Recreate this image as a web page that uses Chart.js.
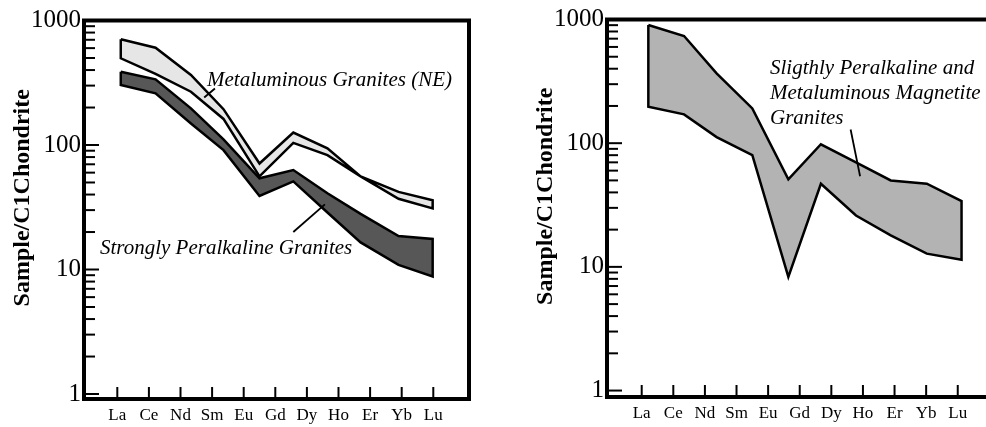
<!DOCTYPE html>
<html>
<head>
<meta charset="utf-8">
<script src="https://cdn.jsdelivr.net/npm/chart.js@4.4.0/dist/chart.umd.min.js"></script>
<style>
  html, body { margin: 0; padding: 0; background: #fff; overflow: hidden; width: 986px; height: 427px; }
  canvas { position: absolute; top: 0; }
  #leftChart { left: 0; }
  #rightChart { left: 523px; }
</style>
</head>
<body>
<canvas id="leftChart" width="490" height="427"></canvas>
<canvas id="rightChart" width="500" height="427"></canvas>
<script>
// REE labels on the x axis, one tick each
const ELEMENTS = ["La", "Ce", "Nd", "Sm", "Eu", "Gd", "Dy", "Ho", "Er", "Yb", "Lu"];
const Y_TICKS = [1, 2, 3, 4, 5, 6, 7, 8, 9, 10, 20, 30, 40, 50, 60, 70, 80, 90,
  100, 200, 300, 400, 500, 600, 700, 800, 900, 1000];
const Y_LABELS = [1, 10, 100, 1000];

// left diagram: two granite envelopes (x = position along the REE axis)
const leftPos = [0.11, 1.21, 2.33, 3.36, 4.5, 5.57, 6.65, 7.7, 8.9, 9.98];
const metaHigh = [706, 605, 365, 194, 71, 126, 94, 56, 42, 36];
const metaLow = [497, 372, 268, 162, 56, 104, 83, 56, 37, 31];
const strongHigh = [388, 337, 197, 111, 54, 63, 41, 28, 18.6, 17.6];
const strongLow = [303, 260, 149, 91, 39, 51, 28.7, 16.5, 10.9, 8.8];

// right diagram: magnetite granite envelope
const rightPos = [0.21, 1.34, 2.37, 3.5, 4.64, 5.67, 6.78, 7.88, 9.02, 10.12];
const magHigh = [903, 735, 367, 191, 51, 98, 70, 50, 47, 34];
const magLow = [197, 171, 112, 80, 8.3, 47, 26, 18, 12.8, 11.4];

const colors = {
  ink: "#000000",
  meta: "#e6e6e6",
  strong: "#575757",
  magnetite: "#b3b3b3",
};

// closed outline: along the upper edge, back along the lower edge
function bandPolygon(pos, high, low) {
  const top = pos.map((x, i) => ({ x, y: high[i] }));
  const bottom = pos.map((x, i) => ({ x, y: low[i] })).reverse();
  return [...top, ...bottom, top[0]];
}

function band(pos, high, low, fillColor) {
  return {
    data: bandPolygon(pos, high, low),
    showLine: true,
    fill: "shape",
    backgroundColor: fillColor,
    borderColor: colors.ink,
    borderWidth: 2.5,
    borderJoinStyle: "miter",
    pointRadius: 0,
    tension: 0,
  };
}

function isDecade(v) {
  return Y_LABELS.includes(v);
}

// frame, inward ticks, leader lines, captions and the rotated y title
const decorPlugin = {
  id: "decor",
  afterDraw(chart, args, opts) {
    const { ctx, chartArea: area, scales } = chart;
    const xs = scales.x;
    const ys = scales.y;
    const seg = (x0, y0, x1, y1) => {
      ctx.beginPath();
      ctx.moveTo(x0, y0);
      ctx.lineTo(x1, y1);
      ctx.stroke();
    };
    ctx.save();
    ctx.strokeStyle = colors.ink;
    ctx.fillStyle = colors.ink;

    ctx.lineWidth = 2;
    ys.ticks.forEach((t) => {
      if (t.value <= ys.min || t.value >= ys.max * 0.999) return;
      const py = ys.getPixelForValue(t.value);
      seg(area.left, py, area.left + (isDecade(t.value) ? 15 : 11), py);
    });
    xs.ticks.forEach((t) => {
      const px = xs.getPixelForValue(t.value);
      seg(px, area.bottom, px, area.bottom - 12);
    });

    ctx.lineWidth = 4;
    ctx.strokeRect(area.left, area.top, area.right - area.left, area.bottom - area.top);

    ctx.lineWidth = 1.8;
    opts.leaders.forEach(([x0, y0, x1, y1]) => {
      seg(xs.getPixelForValue(x0), ys.getPixelForValue(y0), xs.getPixelForValue(x1), ys.getPixelForValue(y1));
    });

    ctx.font = "italic 21px 'Liberation Serif'";
    ctx.textAlign = "left";
    ctx.textBaseline = "middle";
    opts.notes.forEach((n) => {
      ctx.fillText(n.text, xs.getPixelForValue(n.x), ys.getPixelForValue(n.y));
    });

    ctx.translate(area.left - 61, (area.top + area.bottom) / 2 - 12);
    ctx.rotate(-Math.PI / 2);
    ctx.font = "bold 24px 'Liberation Serif'";
    ctx.textAlign = "center";
    ctx.fillText("Sample/C1Chondrite", 0, 0);
    ctx.restore();
  },
};

function makeScales(xMin, xMax, yMin, axisHeight) {
  return {
    x: {
      type: "linear",
      min: xMin,
      max: xMax,
      afterBuildTicks: (scale) => { scale.ticks = ELEMENTS.map((_, i) => ({ value: i })); },
      afterFit: (scale) => { scale.height = axisHeight; },
      ticks: {
        autoSkip: false,
        maxRotation: 0,
        padding: 6,
        color: colors.ink,
        font: { family: "Liberation Serif", size: 17 },
        callback: (v) => ELEMENTS[v] ?? "",
      },
      grid: { display: false, drawTicks: false },
      border: { display: false },
    },
    y: {
      type: "logarithmic",
      min: yMin,
      max: 1000,
      afterBuildTicks: (scale) => { scale.ticks = Y_TICKS.map((v) => ({ value: v, major: isDecade(v) })); },
      afterFit: (scale) => { scale.width = 84; },
      ticks: {
        autoSkip: false,
        padding: 3,
        color: colors.ink,
        font: { family: "Liberation Serif", size: 25 },
        callback: (v) => (isDecade(v) ? String(v) : ""),
      },
      grid: { display: false, drawTicks: false },
      border: { display: false },
    },
  };
}

function createLeftChart() {
  const ctx = document.getElementById("leftChart");
  return new Chart(ctx, {
    type: "scatter",
    data: {
      datasets: [
        band(leftPos, metaHigh, metaLow, colors.meta),
        band(leftPos, strongHigh, strongLow, colors.strong),
      ],
    },
    options: {
      responsive: false,
      animation: false,
      devicePixelRatio: 1,
      layout: { padding: { top: 20.5, right: 21, left: 0, bottom: 0 } },
      scales: makeScales(-1.054, 11.13, 0.912, 28),
      plugins: {
        legend: { display: false },
        tooltip: { enabled: false },
        decor: {
          notes: [
            { text: "Metaluminous Granites (NE)", x: 2.84, y: 332 },
            { text: "Strongly Peralkaline Granites", x: -0.55, y: 14.8 },
          ],
          leaders: [
            [2.75, 241, 3.09, 284],
            [5.57, 20, 6.57, 33.4],
          ],
        },
      },
    },
    plugins: [decorPlugin],
  });
}

function createRightChart() {
  const ctx = document.getElementById("rightChart");
  return new Chart(ctx, {
    type: "scatter",
    data: {
      datasets: [band(rightPos, magHigh, magLow, colors.magnetite)],
    },
    options: {
      responsive: false,
      animation: false,
      devicePixelRatio: 1,
      layout: { padding: { top: 19.5, right: 21, left: 0, bottom: 0 } },
      scales: makeScales(-1.098, 11.4, 0.887, 30),
      plugins: {
        legend: { display: false },
        tooltip: { enabled: false },
        decor: {
          notes: [
            { text: "Sligthly Peralkaline and", x: 4.06, y: 405 },
            { text: "Metaluminous Magnetite", x: 4.06, y: 250 },
            { text: "Granites", x: 4.06, y: 157 },
          ],
          leaders: [[6.61, 129, 6.91, 54]],
        },
      },
    },
    plugins: [decorPlugin],
  });
}

createLeftChart();
createRightChart();
</script>
</body>
</html>
